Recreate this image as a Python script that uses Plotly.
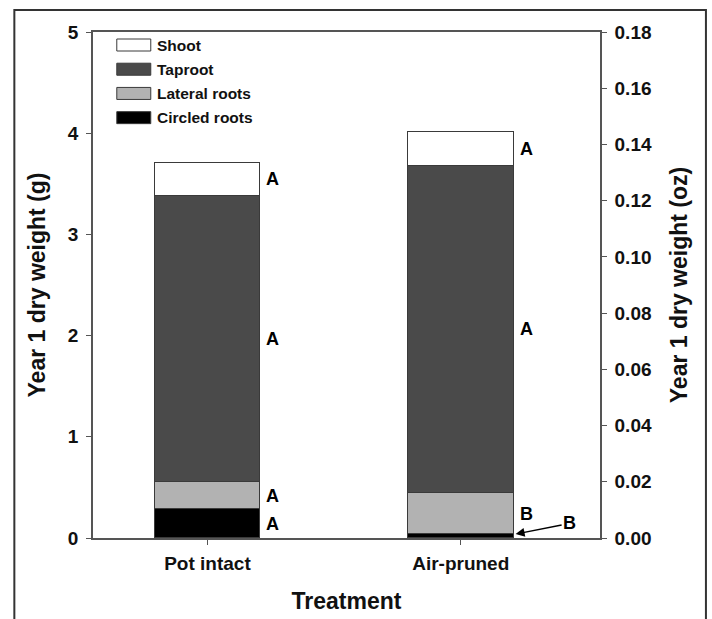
import plotly.graph_objects as go

categories = ["Pot intact", "Air-pruned"]
series_names = ["Circled roots", "Lateral roots", "Taproot", "Shoot"]
circled = [0.285, 0.035]
lateral = [0.27, 0.412]
taproot = [2.825, 3.233]
shoot = [0.33, 0.33]
letters = {
    "Circled roots": ["A", "B"],
    "Lateral roots": ["A", "B"],
    "Taproot": ["A", "A"],
    "Shoot": ["A", "A"],
}
left_ticks = [0, 1, 2, 3, 4, 5]
right_ticks = [0.00, 0.02, 0.04, 0.06, 0.08, 0.10, 0.12, 0.14, 0.16, 0.18]

colors = {"Circled roots": "#000000", "Lateral roots": "#b2b2b2",
          "Taproot": "#4a4a4a", "Shoot": "#ffffff"}
values = {"Circled roots": circled, "Lateral roots": lateral,
          "Taproot": taproot, "Shoot": shoot}

FONT = "Liberation Sans"
xs = list(range(len(categories)))
BW = 0.418

fig = go.Figure()
for name in series_names:
    fig.add_trace(go.Bar(
        x=xs, y=values[name], name=name, width=BW,
        marker=dict(color=colors[name], line=dict(color="#3a3a3a", width=1)),
        showlegend=False,
    ))
# invisible trace to activate right axis
fig.add_trace(go.Scatter(x=[0], y=[0], yaxis="y2", mode="markers",
                         marker=dict(opacity=0), showlegend=False, hoverinfo="skip"))

annotations = []
for i in xs:
    base = 0.0
    for name in series_names:
        v = values[name][i]
        mid = base + v / 2
        lab = letters[name][i]
        if name == "Circled roots" and v < 0.1:
            annotations.append(dict(
                x=i + BW / 2, y=v, xref="x", yref="y", ax=56, ay=-11,
                text=lab, showarrow=True, arrowhead=2, arrowsize=1.2, arrowwidth=1.5,
                arrowcolor="#000", xanchor="center",
                font=dict(family=FONT, size=18, color="#000", weight="bold"),
                standoff=2,
            ))
        else:
            annotations.append(dict(
                x=i + BW / 2, y=mid, xref="x", yref="y", text=lab, showarrow=False,
                xanchor="left", xshift=4,
                font=dict(family=FONT, size=18, color="#000", weight="bold"),
            ))
        base += v

# legend (drawn manually with wide swatches)
legend_order = ["Shoot", "Taproot", "Lateral roots", "Circled roots"]
shapes = []
px_w, px_h = 507.3, 505.7
def px(xp):
    return (xp - 92.7) / px_w
def py(yp):
    return (537.7 - yp) / px_h
for k, name in enumerate(legend_order):
    yc = 45 + k * 24.2
    shapes.append(dict(type="rect", xref="paper", yref="paper",
                       x0=px(116.5), x1=px(150.5), y0=py(yc + 6), y1=py(yc - 6),
                       fillcolor=colors[name], line=dict(color="#3a3a3a", width=1)))
    annotations.append(dict(x=px(155), y=py(yc), xref="paper", yref="paper",
                            text=name, showarrow=False, xanchor="left", yanchor="middle",
                            font=dict(family=FONT, size=15.5, color="#111", weight="bold")))

# outer frame
shapes.append(dict(type="rect", xref="paper", yref="paper",
                   x0=px(14), x1=px(706), y0=py(640), y1=py(10),
                   line=dict(color="#333333", width=2), fillcolor="rgba(0,0,0,0)", layer="below"))

fig.update_layout(
    width=712, height=619,
    margin=dict(l=93, r=112, t=32, b=81),
    paper_bgcolor="white", plot_bgcolor="white",
    barmode="stack", bargap=0,
    font=dict(family=FONT, color="#111"),
    xaxis=dict(range=[-0.452, 1.55], tickvals=xs, ticktext=categories, automargin=False,
               showline=True, linecolor="#555", linewidth=1.5, mirror=True,
               ticks="outside", ticklen=5, tickcolor="#555", showgrid=False, zeroline=False,
               ticklabelstandoff=2,
               tickfont=dict(family=FONT, size=19, color="#111", weight="bold"),
               title=dict(text="Treatment", standoff=20,
                          font=dict(family=FONT, size=23, color="#111", weight="bold"))),
    yaxis=dict(range=[0, 5], tickvals=left_ticks, showline=True, linecolor="#555",
               linewidth=1.5, ticks="outside", ticklen=5, tickcolor="#555", automargin=False,
               showgrid=False, zeroline=False, ticklabelstandoff=4,
               tickfont=dict(family=FONT, size=19, color="#111", weight="bold"),
               title=dict(text="Year 1 dry weight (g)", standoff=16,
                          font=dict(family=FONT, size=23, color="#111", weight="bold"))),
    yaxis2=dict(range=[0, 0.18], tickvals=right_ticks, tickformat=".2f", automargin=False,
                overlaying="y", side="right", showline=True, linecolor="#555",
                linewidth=1.5, ticks="outside", ticklen=5, tickcolor="#555",
                showgrid=False, zeroline=False, ticklabelstandoff=4,
                tickfont=dict(family=FONT, size=19, color="#111", weight="bold"),
                title=dict(text="Year 1 dry weight (oz)", standoff=20,
                           font=dict(family=FONT, size=23, color="#111", weight="bold"))),
    annotations=annotations, shapes=shapes,
)

fig.write_html("out.html", config={"displayModeBar": False},
               post_script="document.body.style.margin='0';document.body.style.overflow='hidden';")
